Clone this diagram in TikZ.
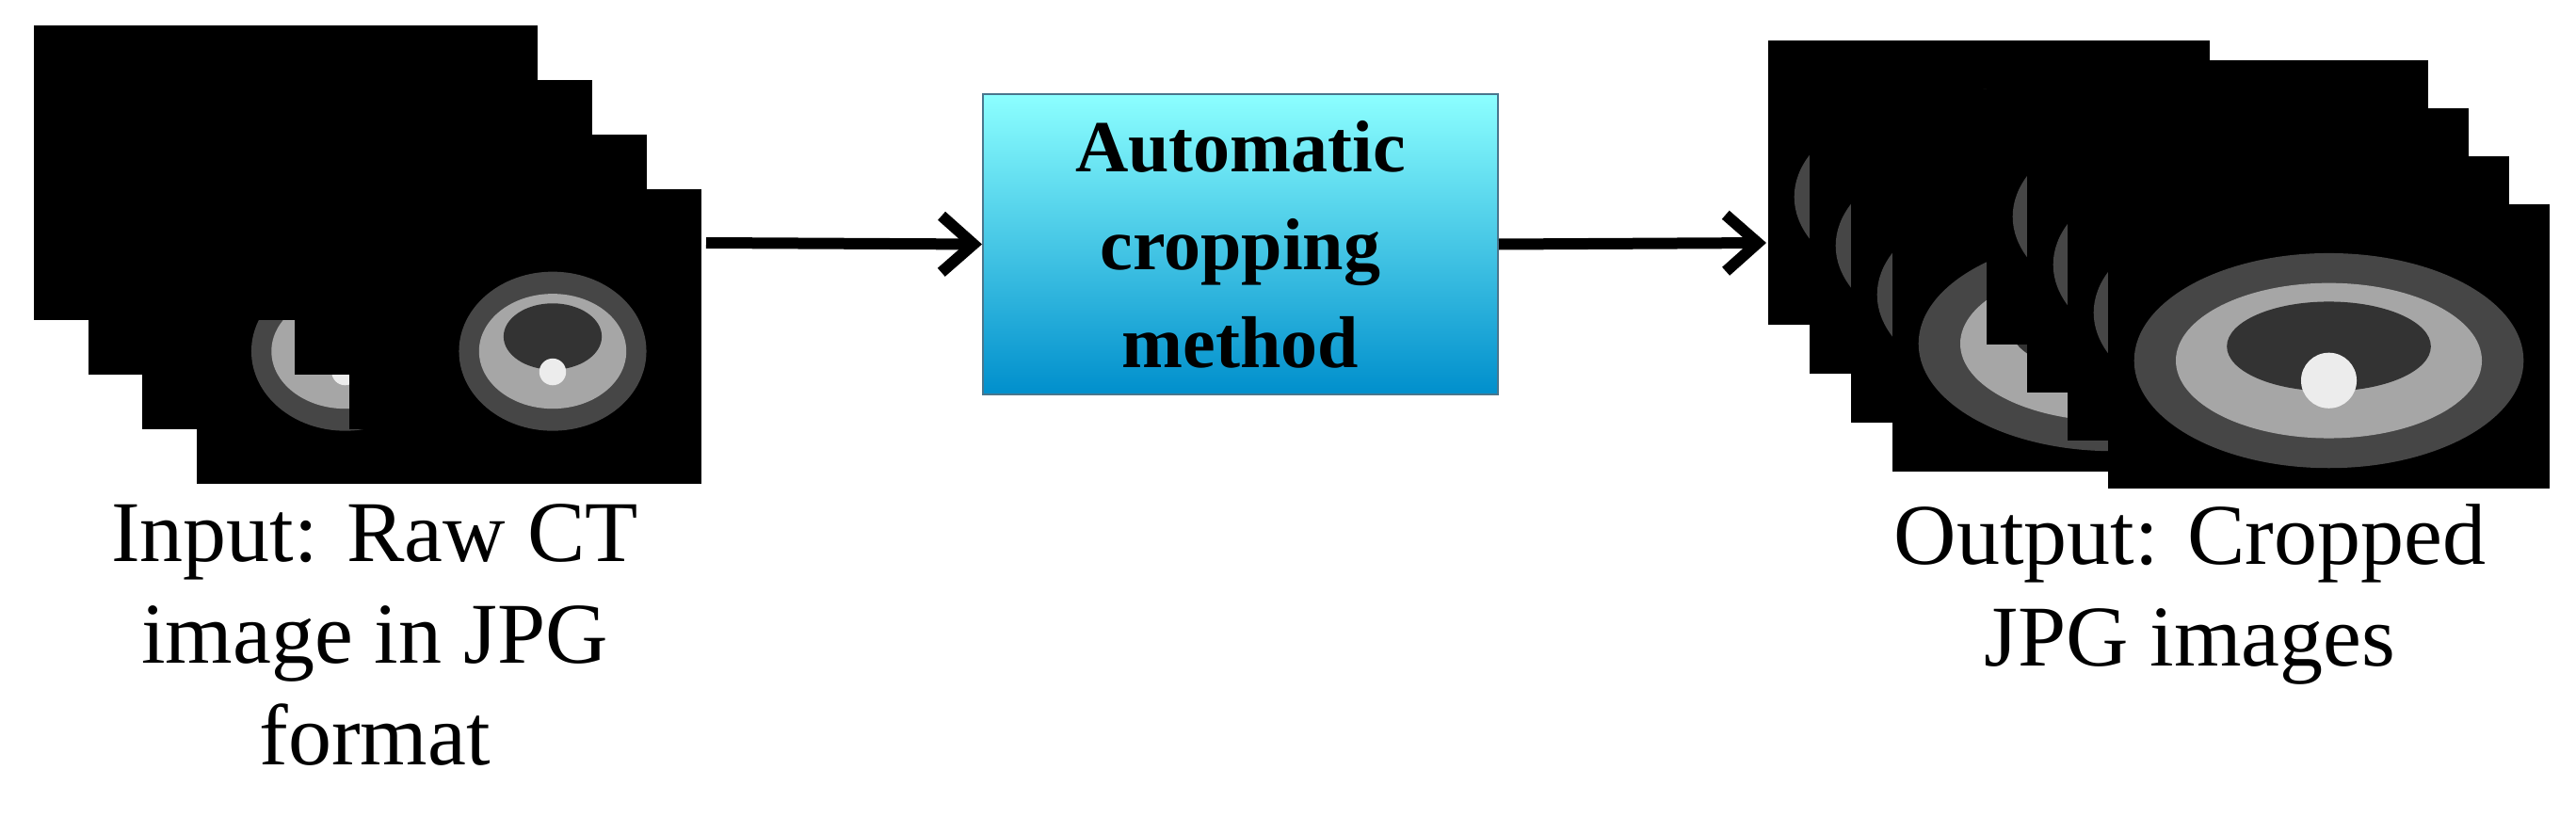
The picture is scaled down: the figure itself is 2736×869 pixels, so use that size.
\documentclass[tikz,border=0pt]{standalone}
\usepackage{fontspec}
\setmainfont{Liberation Serif}
\usetikzlibrary{arrows.meta}
\newcommand\ctslice[5]{% x y w h bodyscale
  \fill[black] (#1,#2) rectangle ++(#3,#4);
  \begin{scope}
    \clip (#1,#2) rectangle ++(#3,#4);
    \fill[gray!55!black] (#1+0.5*#3,#2+0.55*#4) ellipse [x radius=#5*0.42*#3, y radius=#5*0.36*#4];
    \fill[gray!70] (#1+0.5*#3,#2+0.55*#4) ellipse [x radius=#5*0.33*#3, y radius=#5*0.26*#4];
    \fill[gray!40!black] (#1+0.5*#3,#2+0.5*#4) ellipse [x radius=#5*0.22*#3, y radius=#5*0.15*#4];
    \fill[white!85!gray] (#1+0.5*#3,#2+0.62*#4) circle [radius=#5*0.06*#3];
  \end{scope}}
\begin{document}
\begin{tikzpicture}[x=1pt,y=-1pt,
  lbl/.style={font=\fontsize{92}{108}\selectfont, align=center, inner sep=0pt},
  arr/.style={line width=12pt, -{Straight Barb[length=34pt,width=60pt,line width=12pt]}}]
\useasboundingbox (0,0) rectangle (2736,869);
% left stack
\foreach \k in {0,1,2,3}{\ctslice{36+57.5*\k}{27+58*\k}{316}{313}{0.75}}
\foreach \k in {0,1,2,3}{\ctslice{255+58*\k}{27+58*\k}{316}{313}{0.75}}
% right stack
\foreach \k in {0,1,2,3}{\ctslice{1878+44*\k}{43+52*\k}{469}{302}{1.05}}
\foreach \k in {0,1,2,3}{\ctslice{2110+43*\k}{64+51*\k}{469}{302}{1.05}}
\coordinate (inR) at (750,258);
\coordinate (outL) at (1876,258);
\node[draw=cyan!50!black, line width=2pt, top color=cyan!45!white, bottom color=cyan!70!blue!80!black,
  minimum width=547pt, minimum height=319pt, inner sep=0pt,
  font=\bfseries\fontsize{78}{104}\selectfont, align=center] (box) at (1317.5,259.5)
  {Automatic\\cropping\\method};
\draw[arr] (inR) -- (box.west);
\draw[arr] (box.east) -- (outL);
\node[lbl, anchor=north] (inlbl) at (398,535) {Input: Raw CT\\image in JPG\\format};
\node[lbl, anchor=north] (outlbl) at (2326,535) {Output: Cropped\\JPG images};
\end{tikzpicture}
\end{document}
